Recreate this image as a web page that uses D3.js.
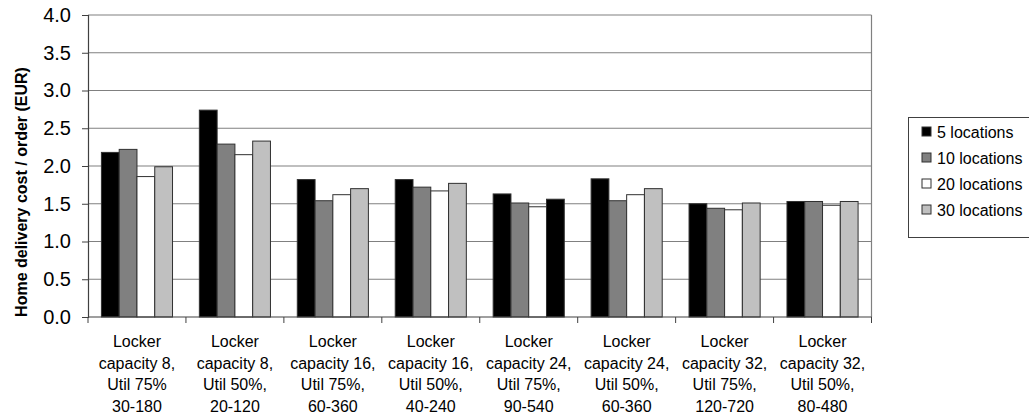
<!DOCTYPE html>
<html>
<head>
<meta charset="utf-8">
<script src="https://cdn.jsdelivr.net/npm/d3@7"></script>
<style>
  html, body { margin: 0; padding: 0; background: #fff; }
  svg { display: block; font-family: "Liberation Sans", Arial, sans-serif; }
</style>
</head>
<body>
<svg id="chart" width="1029" height="416"></svg>
<script>
// Scenario categories (each label is split into lines)
const categories = [
  ["Locker", "capacity 8,", "Util 75%", "30-180"],
  ["Locker", "capacity 8,", "Util 50%,", "20-120"],
  ["Locker", "capacity 16,", "Util 75%,", "60-360"],
  ["Locker", "capacity 16,", "Util 50%,", "40-240"],
  ["Locker", "capacity 24,", "Util 75%,", "90-540"],
  ["Locker", "capacity 24,", "Util 50%,", "60-360"],
  ["Locker", "capacity 32,", "Util 75%,", "120-720"],
  ["Locker", "capacity 32,", "Util 50%,", "80-480"]
];

const seriesNames = ["5 locations", "10 locations", "20 locations", "30 locations"];

// Home delivery cost per order (EUR) for each series
const loc5  = [2.18, 2.74, 1.82, 1.82, 1.63, 1.83, 1.50, 1.53];
const loc10 = [2.22, 2.29, 1.54, 1.72, 1.51, 1.54, 1.44, 1.53];
const loc20 = [1.86, 2.15, 1.62, 1.67, 1.46, 1.62, 1.42, 1.48];
const loc30 = [1.99, 2.33, 1.70, 1.77, 1.56, 1.70, 1.51, 1.53];

const yTicks = [0, 0.5, 1, 1.5, 2, 2.5, 3, 3.5, 4];

const seriesValues = [loc5, loc10, loc20, loc30];
const seriesFill = ["#000000", "#808080", "#ffffff", "#c0c0c0"];
// Single bar drawn with a different fill (category index, series index)
const fillExceptions = [{ cat: 4, ser: 3, fill: "#000000" }];

const svg = d3.select("#chart");
const plot = { left: 88, right: 871.5, top: 15, bottom: 317 };

const x0 = d3.scaleBand()
  .domain(d3.range(categories.length))
  .range([plot.left, plot.right])
  .paddingInner(0).paddingOuter(0);

const x1 = d3.scaleBand()
  .domain(d3.range(seriesNames.length))
  .range([x0.bandwidth() * 0.137, x0.bandwidth() * 0.863])
  .padding(0);

const y = d3.scaleLinear().domain([0, 4]).range([plot.bottom, plot.top]);

// Horizontal gridlines
svg.append("g")
  .selectAll("line")
  .data(yTicks.filter(d => d > 0))
  .join("line")
  .attr("x1", plot.left).attr("x2", plot.right)
  .attr("y1", d => y(d)).attr("y2", d => y(d))
  .attr("stroke", "#808080").attr("stroke-width", 1.2);

// Right border of plot area
svg.append("line")
  .attr("x1", plot.right).attr("x2", plot.right)
  .attr("y1", plot.top).attr("y2", plot.bottom)
  .attr("stroke", "#808080").attr("stroke-width", 1.2);

// Bars
const groups = svg.append("g")
  .selectAll("g")
  .data(categories.map((c, i) => i))
  .join("g")
  .attr("transform", i => `translate(${x0(i)},0)`);

groups.selectAll("rect")
  .data(ci => seriesValues.map((vals, si) => ({ ci, si, v: vals[ci] })))
  .join("rect")
  .attr("x", d => x1(d.si))
  .attr("width", x1.bandwidth())
  .attr("y", d => y(d.v))
  .attr("height", d => y(0) - y(d.v))
  .attr("fill", d => {
    const ex = fillExceptions.find(e => e.cat === d.ci && e.ser === d.si);
    return ex ? ex.fill : seriesFill[d.si];
  })
  .attr("stroke", "#303030")
  .attr("stroke-width", 1);

// Y axis
const yAxis = svg.append("g")
  .attr("transform", `translate(${plot.left},0)`)
  .call(d3.axisLeft(y).tickValues(yTicks).tickFormat(d3.format(".1f")).tickSize(6).tickPadding(11));
yAxis.select(".domain").attr("stroke", "#404040").attr("stroke-width", 1.2);
yAxis.selectAll(".tick line").attr("stroke", "#404040");
yAxis.selectAll("text").attr("font-size", 20).attr("fill", "#000")
  .attr("font-family", "Liberation Sans, Arial, sans-serif");

// X axis baseline and boundary ticks
const xAxis = svg.append("g")
  .attr("transform", `translate(0,${plot.bottom})`);
xAxis.append("line")
  .attr("x1", plot.left).attr("x2", plot.right)
  .attr("stroke", "#404040").attr("stroke-width", 1.2);
xAxis.selectAll("line.tk")
  .data(d3.range(categories.length + 1))
  .join("line")
  .attr("class", "tk")
  .attr("x1", i => i < categories.length ? x0(i) : plot.right)
  .attr("x2", i => i < categories.length ? x0(i) : plot.right)
  .attr("y1", 0).attr("y2", 6)
  .attr("stroke", "#404040");

// Category labels
const labels = svg.append("g")
  .selectAll("text")
  .data(categories)
  .join("text")
  .attr("text-anchor", "middle")
  .attr("font-size", 16)
  .attr("fill", "#000");
labels.each(function (lines, i) {
  const t = d3.select(this);
  lines.forEach((ln, k) => {
    t.append("tspan")
      .attr("x", x0(i) + x0.bandwidth() / 2)
      .attr("y", 347 + k * 21.5)
      .text(ln);
  });
});

// Y axis title
svg.append("text")
  .attr("transform", "translate(27,192) rotate(-90)")
  .attr("text-anchor", "middle")
  .attr("font-size", 16)
  .attr("font-weight", "bold")
  .attr("fill", "#000")
  .text("Home delivery cost / order (EUR)");

// Legend
const legend = svg.append("g");
legend.append("rect")
  .attr("x", 908.5).attr("y", 117.5)
  .attr("width", 130).attr("height", 120)
  .attr("fill", "#fff").attr("stroke", "#404040").attr("stroke-width", 1);
const items = legend.selectAll("g.item")
  .data(seriesNames)
  .join("g")
  .attr("class", "item")
  .attr("transform", (d, i) => `translate(0,${132 + i * 26})`);
items.append("rect")
  .attr("x", 922).attr("y", -5)
  .attr("width", 9).attr("height", 9)
  .attr("fill", (d, i) => seriesFill[i])
  .attr("stroke", "#303030").attr("stroke-width", 1);
items.append("text")
  .attr("x", 937).attr("y", 6)
  .attr("font-size", 16)
  .attr("fill", "#000")
  .text(d => d);
</script>
</body>
</html>
